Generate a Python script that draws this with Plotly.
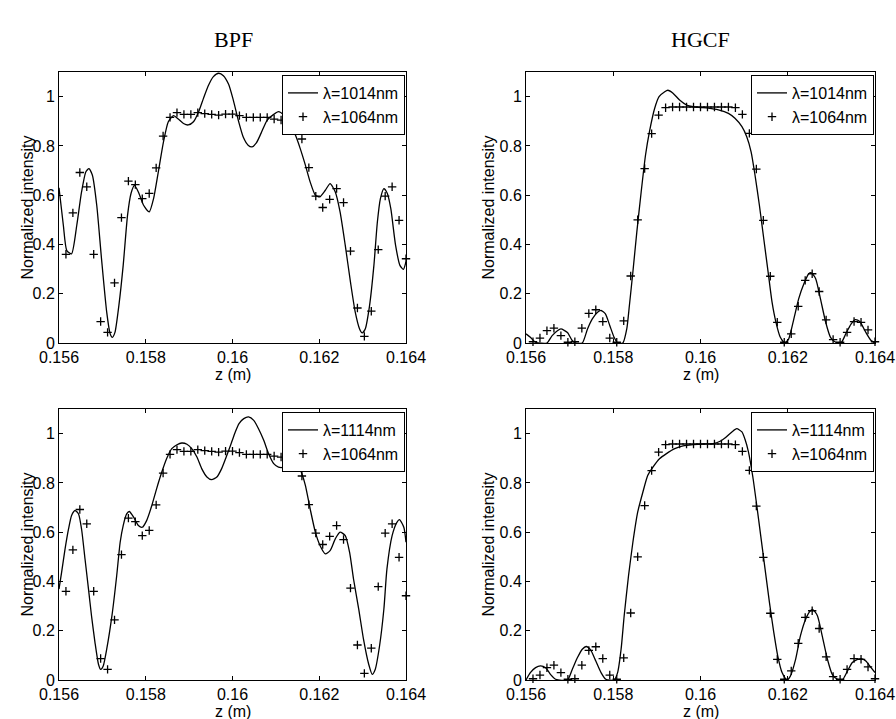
import plotly.graph_objects as go

# =========================
# DATA
# =========================
# reference samples, lambda = 1064 nm (same z grid in all panels)
z_ref = [0.15616, 0.15632, 0.15648, 0.15664, 0.1568, 0.15696, 0.15712, 0.15728, 0.15744, 0.1576,
         0.15776, 0.15792, 0.15808, 0.15824, 0.1584, 0.15856, 0.15872, 0.15888, 0.15904, 0.1592,
         0.15936, 0.15952, 0.15968, 0.15984, 0.16, 0.16016, 0.16032, 0.16048, 0.16064, 0.1608,
         0.16096, 0.16112, 0.16128, 0.16144, 0.1616, 0.16176, 0.16192, 0.16208, 0.16224, 0.1624,
         0.16256, 0.16272, 0.16288, 0.16304, 0.1632, 0.16336, 0.16352, 0.16368, 0.16384, 0.164]

bpf_ref = [0.360, 0.528, 0.692, 0.634, 0.360, 0.087, 0.043, 0.244, 0.509, 0.657,
           0.643, 0.586, 0.607, 0.711, 0.840, 0.916, 0.935, 0.928, 0.928, 0.935,
           0.931, 0.928, 0.925, 0.929, 0.929, 0.923, 0.916, 0.916, 0.916, 0.916,
           0.909, 0.905, 0.895, 0.880, 0.828, 0.712, 0.596, 0.550, 0.583, 0.627,
           0.570, 0.373, 0.142, 0.027, 0.129, 0.379, 0.596, 0.634, 0.498, 0.342]

hgcf_ref = [0.005, 0.020, 0.050, 0.060, 0.030, 0.003, 0.005, 0.060, 0.120, 0.135,
            0.087, 0.020, 0.003, 0.090, 0.272, 0.500, 0.708, 0.850, 0.925, 0.955,
            0.958, 0.958, 0.958, 0.958, 0.958, 0.958, 0.958, 0.958, 0.958, 0.955,
            0.928, 0.851, 0.706, 0.498, 0.271, 0.084, 0.003, 0.037, 0.149, 0.254,
            0.281, 0.209, 0.094, 0.014, 0.003, 0.043, 0.087, 0.084, 0.053, 0.005]

# BPF, lambda = 1014 nm
z_bpf_1014 = [0.156, 0.1561, 0.15618, 0.15629, 0.15641, 0.15652, 0.15662, 0.15669, 0.15677, 0.15687,
              0.15698, 0.1571, 0.15718, 0.15723, 0.15729, 0.15738, 0.15748, 0.15758, 0.15766, 0.15774,
              0.15783, 0.15795, 0.15808, 0.15818, 0.15829, 0.15841, 0.15852, 0.15864, 0.15875, 0.15887,
              0.15898, 0.1591, 0.15922, 0.15933, 0.15945, 0.15956, 0.15968, 0.15979, 0.15991, 0.16002,
              0.16014, 0.16025, 0.16036, 0.16045, 0.16055, 0.16066, 0.1608, 0.16095, 0.16106, 0.16118,
              0.16133, 0.16145, 0.16156, 0.16168, 0.16179, 0.16191, 0.16201, 0.16214, 0.16225, 0.16237,
              0.16248, 0.1626, 0.16272, 0.16283, 0.16293, 0.16299, 0.16306, 0.16316, 0.16326, 0.16334,
              0.16341, 0.16349, 0.16357, 0.16365, 0.16376, 0.16386, 0.16394, 0.164]
bpf_1014 = [0.630, 0.478, 0.375, 0.362, 0.478, 0.613, 0.695, 0.708, 0.681, 0.559,
            0.342, 0.125, 0.037, 0.023, 0.043, 0.152, 0.315, 0.518, 0.607, 0.640,
            0.613, 0.559, 0.532, 0.586, 0.695, 0.817, 0.898, 0.923, 0.909, 0.891,
            0.885, 0.898, 0.939, 0.993, 1.047, 1.081, 1.095, 1.085, 1.050, 0.985,
            0.900, 0.835, 0.803, 0.796, 0.812, 0.852, 0.905, 0.928, 0.939, 0.925,
            0.885, 0.844, 0.790, 0.722, 0.654, 0.600, 0.593, 0.620, 0.647, 0.613,
            0.532, 0.396, 0.247, 0.125, 0.057, 0.041, 0.057, 0.152, 0.315, 0.491,
            0.586, 0.627, 0.607, 0.545, 0.396, 0.315, 0.299, 0.330]

# HGCF, lambda = 1014 nm
z_hgcf_1014 = [0.156, 0.1561, 0.15622, 0.15648, 0.1566, 0.15672, 0.1568, 0.15695, 0.15706, 0.15714,
               0.15729, 0.15741, 0.15752, 0.15764, 0.15772, 0.15782, 0.15792, 0.15802, 0.1581, 0.15822,
               0.15831, 0.15837, 0.15845, 0.15854, 0.15864, 0.15874, 0.15883, 0.15895, 0.15905, 0.15918,
               0.15925, 0.15937, 0.15952, 0.15968, 0.15983, 0.16, 0.16018, 0.16041, 0.16064, 0.16079,
               0.16095, 0.16106, 0.16116, 0.16125, 0.16135, 0.16145, 0.16155, 0.16164, 0.16173, 0.16183,
               0.16193, 0.16202, 0.16214, 0.16225, 0.16237, 0.16248, 0.16254, 0.16264, 0.16275, 0.16287,
               0.16298, 0.1631, 0.16322, 0.16333, 0.16345, 0.16355, 0.16365, 0.16379, 0.16391, 0.164]
hgcf_1014 = [0.037, 0.023, 0.003, 0.0, 0.030, 0.050, 0.057, 0.043, 0.010, 0.0,
             0.0, 0.057, 0.098, 0.125, 0.132, 0.118, 0.071, 0.023, 0.0, 0.0,
             0.057, 0.152, 0.288, 0.450, 0.613, 0.763, 0.858, 0.953, 1.000, 1.020,
             1.026, 1.014, 0.986, 0.966, 0.959, 0.956, 0.953, 0.946, 0.932, 0.912,
             0.878, 0.837, 0.776, 0.681, 0.559, 0.423, 0.288, 0.166, 0.084, 0.023,
             0.0, 0.016, 0.098, 0.179, 0.240, 0.281, 0.285, 0.261, 0.179, 0.084,
             0.023, 0.003, 0.0, 0.037, 0.077, 0.095, 0.087, 0.043, 0.010, 0.0]

# BPF, lambda = 1114 nm
z_bpf_1114 = [0.156, 0.15606, 0.15614, 0.15622, 0.15629, 0.15637, 0.15645, 0.15652, 0.1566, 0.15668,
              0.15675, 0.15683, 0.15691, 0.15696, 0.15702, 0.1571, 0.15722, 0.15733, 0.15741, 0.15748,
              0.15756, 0.15762, 0.15772, 0.15783, 0.15792, 0.15802, 0.15814, 0.15825, 0.15837, 0.15848,
              0.1586, 0.15872, 0.15883, 0.15895, 0.15906, 0.15918, 0.15929, 0.15941, 0.15952, 0.15964,
              0.15975, 0.15987, 0.15996, 0.16006, 0.16015, 0.16026, 0.16037, 0.16049, 0.1606, 0.16072,
              0.16083, 0.16095, 0.16106, 0.16118, 0.16129, 0.16141, 0.16152, 0.1616, 0.16168, 0.16179,
              0.16191, 0.16202, 0.16214, 0.16225, 0.16237, 0.16248, 0.1626, 0.1627, 0.16279, 0.16291,
              0.16302, 0.16314, 0.16322, 0.16329, 0.16339, 0.16349, 0.16356, 0.16368, 0.16379, 0.16385,
              0.16395, 0.164]
bpf_1114 = [0.369, 0.437, 0.532, 0.613, 0.668, 0.688, 0.674, 0.613, 0.491, 0.369,
            0.260, 0.152, 0.064, 0.043, 0.057, 0.125, 0.260, 0.423, 0.559, 0.627,
            0.674, 0.684, 0.661, 0.627, 0.620, 0.647, 0.708, 0.776, 0.844, 0.898,
            0.939, 0.955, 0.962, 0.957, 0.939, 0.905, 0.858, 0.824, 0.813, 0.824,
            0.858, 0.912, 0.955, 1.005, 1.041, 1.061, 1.068, 1.054, 1.020, 0.973,
            0.919, 0.878, 0.864, 0.864, 0.878, 0.887, 0.871, 0.837, 0.790, 0.695,
            0.600, 0.545, 0.512, 0.525, 0.573, 0.600, 0.586, 0.518, 0.410, 0.288,
            0.166, 0.064, 0.023, 0.043, 0.138, 0.288, 0.450, 0.586, 0.640, 0.651,
            0.620, 0.559]

# HGCF, lambda = 1114 nm
z_hgcf_1114 = [0.156, 0.1561, 0.15622, 0.15633, 0.15645, 0.15656, 0.15668, 0.15695, 0.15706, 0.15718,
               0.15729, 0.15738, 0.15748, 0.1576, 0.15772, 0.15783, 0.15802, 0.1581, 0.15818, 0.15825,
               0.15835, 0.15845, 0.15856, 0.15868, 0.15879, 0.15891, 0.15906, 0.15922, 0.15941, 0.1596,
               0.15983, 0.16006, 0.16029, 0.16045, 0.16056, 0.16072, 0.16083, 0.16095, 0.16102, 0.1611,
               0.1612, 0.16129, 0.16138, 0.16148, 0.16158, 0.16168, 0.16177, 0.16187, 0.16198, 0.16206,
               0.16218, 0.16229, 0.16241, 0.16252, 0.16258, 0.16268, 0.16279, 0.16291, 0.16302, 0.16314,
               0.16325, 0.16337, 0.16348, 0.1636, 0.16369, 0.16379, 0.16391, 0.164]
hgcf_1114 = [0.0, 0.030, 0.050, 0.057, 0.050, 0.023, 0.003, 0.0, 0.043, 0.091,
             0.125, 0.136, 0.122, 0.077, 0.030, 0.003, 0.0, 0.030, 0.125, 0.260,
             0.423, 0.559, 0.681, 0.763, 0.830, 0.864, 0.898, 0.919, 0.939, 0.950,
             0.955, 0.958, 0.959, 0.969, 0.982, 1.007, 1.020, 1.007, 0.977, 0.925,
             0.824, 0.708, 0.586, 0.450, 0.315, 0.193, 0.098, 0.030, 0.0, 0.016,
             0.084, 0.179, 0.247, 0.281, 0.285, 0.261, 0.179, 0.084, 0.023, 0.003,
             0.0, 0.037, 0.071, 0.084, 0.087, 0.077, 0.050, 0.030]

x_ticks = [0.156, 0.158, 0.16, 0.162, 0.164]
x_tick_text = ["0.156", "0.158", "0.16", "0.162", "0.164"]
y_ticks = [0, 0.2, 0.4, 0.6, 0.8, 1]
y_tick_text = ["0", "0.2", "0.4", "0.6", "0.8", "1"]

# =========================
# LAYOUT GEOMETRY (pixels)
# =========================
W, H = 896, 719
SANS = "Liberation Sans, Arial, Helvetica, sans-serif"
SERIF = "Liberation Serif, Times New Roman, serif"
FS = 16

# (left, right, top, bottom) of each axes box, in pixels
boxes = [(59, 406, 72, 343), (526, 875, 72, 343),
         (59, 406, 409, 680), (526, 875, 409, 680)]

panels = [
    (z_bpf_1014, bpf_1014, "λ=1014nm", z_ref, bpf_ref),
    (z_hgcf_1014, hgcf_1014, "λ=1014nm", z_ref, hgcf_ref),
    (z_bpf_1114, bpf_1114, "λ=1114nm", z_ref, bpf_ref),
    (z_hgcf_1114, hgcf_1114, "λ=1114nm", z_ref, hgcf_ref),
]

fig = go.Figure()
layout = {}
annotations = []

for i, (box, panel) in enumerate(zip(boxes, panels)):
    n = "" if i == 0 else str(i + 1)
    lg = "legend" + n
    zl, yl, lab, zr, yr = panel
    l, r, t, b = box

    fig.add_trace(go.Scatter(
        x=zl, y=yl, mode="lines", name=lab, legend=lg,
        line=dict(color="black", width=1.3, shape="spline", smoothing=0.6),
        xaxis="x" + n, yaxis="y" + n,
    ))
    fig.add_trace(go.Scatter(
        x=zr, y=yr, mode="markers", name="λ=1064nm", legend=lg,
        marker=dict(symbol="cross-thin", size=6, color="black",
                    line=dict(color="black", width=1.3)),
        cliponaxis=False,
        xaxis="x" + n, yaxis="y" + n,
    ))

    axis_common = dict(
        showgrid=False, zeroline=False, showline=True, linecolor="black",
        linewidth=1, mirror="ticks", ticks="inside", ticklen=4,
        tickcolor="black", tickfont=dict(family=SANS, size=FS, color="black"),
        automargin=False,
    )
    layout["xaxis" + n] = dict(
        axis_common, domain=[l / W, r / W], range=[0.156, 0.164],
        tickvals=x_ticks, ticktext=x_tick_text, anchor="y" + n,
    )
    layout["yaxis" + n] = dict(
        axis_common, domain=[1 - b / H, 1 - t / H], range=[0, 1.1],
        tickvals=y_ticks, ticktext=y_tick_text, anchor="x" + n,
    )
    layout[lg] = dict(
        x=(r - 1) / W, y=1 - (t + 3) / H, xanchor="right", yanchor="top",
        bgcolor="white", bordercolor="black", borderwidth=1,
        font=dict(family=SANS, size=FS, color="black"),
        itemwidth=30, tracegroupgap=0,
    )

    # axis labels
    annotations.append(dict(
        text="z (m)", x=(l + r) / 2 / W, y=1 - (b + 31) / H,
        xanchor="center", yanchor="middle",
        xref="paper", yref="paper", showarrow=False,
        font=dict(family=SANS, size=FS, color="black"),
    ))
    annotations.append(dict(
        text="Normalized intensity", x=(l - (32 if i % 2 == 0 else 38)) / W,
        y=1 - (t + b) / 2 / H, xanchor="center", yanchor="middle",
        xref="paper", yref="paper", showarrow=False, textangle=-90,
        font=dict(family=SANS, size=FS, color="black"),
    ))

# column titles
for txt, cx in [("BPF", 233), ("HGCF", 700)]:
    annotations.append(dict(text=txt, x=cx / W, y=1 - 40 / H, xref="paper", yref="paper",
                            xanchor="center", yanchor="middle", showarrow=False,
                            font=dict(family=SERIF, size=22, color="black")))

fig.update_layout(
    **layout,
    template="none",
    annotations=annotations,
    width=W, height=H,
    margin=dict(l=0, r=0, t=0, b=0, autoexpand=False),
    paper_bgcolor="white", plot_bgcolor="white",
    showlegend=True,
)

# drop the default page margin so the figure sits at the window's corner
fig.write_html("out.html",
               config={"displayModeBar": False},
               post_script="document.body.style.margin='0';document.body.style.overflow='hidden';")
